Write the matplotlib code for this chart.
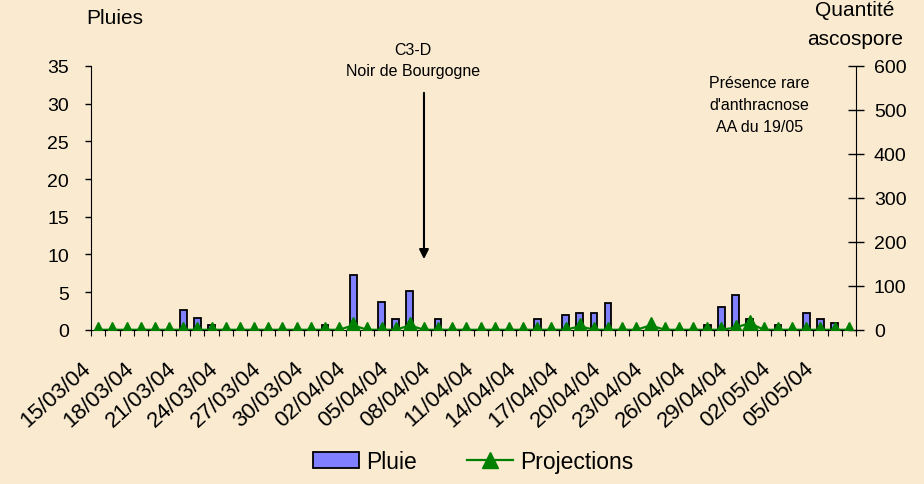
import datetime as dt
import numpy as np
import matplotlib
matplotlib.use("Agg")
import matplotlib.pyplot as plt
import matplotlib.transforms as mtransforms
from matplotlib.lines import Line2D
from matplotlib.patches import Patch

plt.rcParams['font.family'] = ['Liberation Sans', 'DejaVu Sans']

# daily categories 15/03/04 -> 07/05/04
start = dt.date(2004, 3, 15)
n_days = 54
dates = [start + dt.timedelta(days=i) for i in range(n_days)]
date_labels = [d.strftime("%d/%m/%y") for d in dates]

# rain (mm) per day
pluie_days = [6, 7, 8, 16, 18, 20, 21, 22, 24, 31, 33, 34, 35, 36, 43, 44, 45, 46, 48, 50, 51, 52]
pluie_vals = [2.6, 1.6, 0.6, 0.6, 7.2, 3.7, 1.4, 5.1, 1.4, 1.4, 1.9, 2.2, 2.2, 3.5, 0.6, 3.0, 4.6, 1.4, 0.6, 2.2, 1.4, 0.9]

# ascospore projections per day
proj_days = [18, 22, 34, 39, 45, 46]
proj_vals = [10, 10, 8, 10, 5, 15]

pluie = np.zeros(n_days)
pluie[pluie_days] = pluie_vals
projections = np.zeros(n_days)
projections[proj_days] = proj_vals

bg = '#F9EAD0'
fig = plt.figure(figsize=(9.24, 4.85), dpi=100, facecolor=bg)
ax = fig.add_axes([0.0987, 0.318, 0.8276, 0.544])
ax.set_facecolor('none')
x = np.arange(n_days)

ax.bar(x, pluie, width=0.47, color='#8080FF', edgecolor='black', linewidth=1.3, zorder=2)
ax.set_xlim(-0.5, n_days - 0.5)
ax.set_ylim(0, 35)
ax.set_yticks(np.arange(0, 36, 5))
ax.tick_params(axis='y', labelsize=14, length=4, width=1, direction='out', pad=12)

# category boundary ticks, labels every 3rd day
ax.set_xticks(np.arange(-0.5, n_days, 1))
ax.set_xticklabels([])
ax.tick_params(axis='x', which='major', length=4, width=0.8, direction='out')
ax.set_xticks(x[::3], minor=True)
ax.set_xticklabels(date_labels[::3], minor=True, rotation=42, ha='right',
                   rotation_mode='anchor', fontsize=16)
ax.tick_params(axis='x', which='minor', length=0, pad=20)
shift = mtransforms.ScaledTranslation(-0.17, 0, fig.dpi_scale_trans)
for lab in ax.get_xticklabels(minor=True):
    lab.set_transform(lab.get_transform() + shift)

ax.spines['top'].set_visible(False)
ax.spines['right'].set_visible(False)

ax2 = ax.twinx()
ax2.plot(x, projections, color='#008000', linewidth=1.6, marker='^',
         markersize=12, zorder=3)
ax2.set_ylim(0, 600)
ax2.set_yticks(np.arange(0, 601, 100))
ax2.tick_params(axis='y', labelsize=14, length=12, width=1, direction='inout', pad=7)
ax2.spines['top'].set_visible(False)
ax2.spines['left'].set_visible(False)
ax2.spines['bottom'].set_visible(False)

fig.text(0.124, 0.962, 'Pluies', fontsize=15, ha='center', va='center')
fig.text(0.925, 0.918, 'ascospore', fontsize=15, ha='center', va='center')
fig.text(0.925, 0.978, 'Quantité', fontsize=15, ha='center', va='center')

ax.text(22.2, 35.8, 'C3-D\nNoir de Bourgogne', fontsize=11.5, ha='center', va='center',
        linespacing=1.5)
ax.annotate('', xy=(23, 9.0), xytext=(23, 31.8),
            arrowprops=dict(arrowstyle='-|>', color='black', lw=1.5, mutation_scale=14))
ax.text(46.7, 29.9, "Présence rare\nd'anthracnose\nAA du 19/05", fontsize=11.5,
        ha='center', va='center', linespacing=1.6)

handles = [Patch(facecolor='#8080FF', edgecolor='black', linewidth=1.3, label='Pluie'),
           Line2D([0], [0], color='#008000', linewidth=1.6, marker='^', markersize=12,
                  label='Projections')]
fig.legend(handles=handles, loc='lower center', bbox_to_anchor=(0.512, -0.02), ncol=2,
           frameon=False, fontsize=16.5, handlelength=2.0, handleheight=0.7,
           columnspacing=2.2, handletextpad=0.3)

fig.savefig('out.png', dpi=100, facecolor=bg)
